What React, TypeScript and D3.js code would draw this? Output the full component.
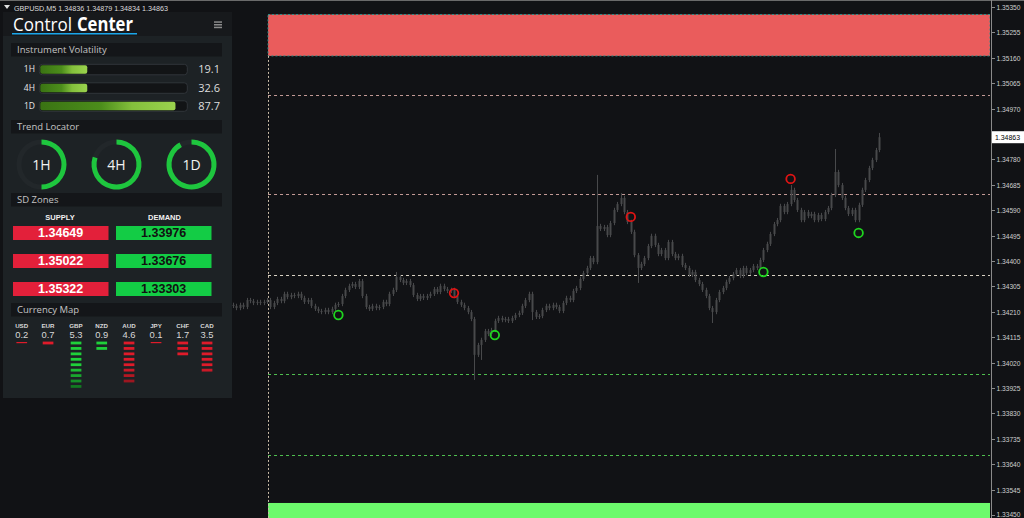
import React from 'react';
import * as d3 from 'd3';

const W = 1024;
const H = 518;

// ---------- data ----------
const symbolTitle = 'GBPUSD,M5';
const ohlcTitle = ['1.34836', '1.34879', '1.34834', '1.34863'];

const priceTicks = [
  1.3345, 1.33545, 1.3364, 1.33735, 1.3383, 1.33925, 1.3402, 1.34115, 1.3421, 1.34305, 1.344,
  1.34495, 1.3459, 1.34685, 1.3478, 1.34875, 1.3497, 1.35065, 1.3516, 1.35255, 1.3535,
];
const lastPrice = 1.34863;

const firstOpen = 1.34236;
const closes = [
  1.34232, 1.34224, 1.34236, 1.34228, 1.34254, 1.3425, 1.34243, 1.34247, 1.34243, 1.34247,
  1.34254, 1.34228, 1.34243, 1.34258, 1.3425, 1.34277, 1.34265, 1.34273, 1.34269, 1.34277,
  1.34262, 1.34247, 1.34254, 1.34232, 1.34221, 1.34213, 1.34209, 1.34217, 1.34209, 1.34221,
  1.34236, 1.34239, 1.34269, 1.34292, 1.34307, 1.34314, 1.34303, 1.34325, 1.34269, 1.34228,
  1.34221, 1.34232, 1.34224, 1.34228, 1.34247, 1.34239, 1.34277, 1.34292, 1.3434, 1.34329,
  1.34318, 1.34325, 1.3431, 1.34273, 1.34258, 1.34269, 1.34262, 1.34269, 1.34277, 1.34295,
  1.34284, 1.34307, 1.34295, 1.34288, 1.34292, 1.34269, 1.34247, 1.34236, 1.34224, 1.34209,
  1.34183, 1.34049, 1.34086, 1.34105, 1.34138, 1.34127, 1.34142, 1.34176, 1.34187, 1.34179,
  1.34183, 1.34176, 1.34187, 1.34198, 1.34206, 1.34232, 1.34254, 1.34277, 1.34209, 1.34191,
  1.34194, 1.34217, 1.34232, 1.34224, 1.34236, 1.34228, 1.34213, 1.34243, 1.34262, 1.34254,
  1.34288, 1.34299, 1.34333, 1.34355, 1.34374, 1.34411, 1.34396, 1.34531, 1.3452, 1.34527,
  1.34497, 1.34542, 1.34591, 1.34613, 1.34636, 1.34583, 1.34546, 1.34509, 1.34422, 1.34374,
  1.34389, 1.34411, 1.34456, 1.34494, 1.3446, 1.34426, 1.34441, 1.34411, 1.34471, 1.34426,
  1.34411, 1.34419, 1.34385, 1.34374, 1.34348, 1.34359, 1.34329, 1.34314, 1.34292, 1.34269,
  1.34224, 1.34209, 1.34254, 1.34284, 1.34299, 1.34322, 1.34336, 1.34351, 1.34366, 1.34344,
  1.34374, 1.34355, 1.34366, 1.34381, 1.34374, 1.34404, 1.34441, 1.34464, 1.34501, 1.34538,
  1.34553, 1.34606, 1.34583, 1.34613, 1.34666, 1.34628, 1.34591, 1.34553, 1.34583, 1.34568,
  1.34576, 1.34553, 1.34572, 1.34557, 1.34583, 1.34598, 1.34647, 1.34733, 1.34684, 1.34636,
  1.34598, 1.34576, 1.34591, 1.34553, 1.3461, 1.34666, 1.34703, 1.34748, 1.34778, 1.34815,
  1.34863,
];
const typicalWickPips = 0.8;
const spikeHighIdx = [37, 48, 107, 114, 164, 177, 190];
const spikeHighs = [1.34333, 1.34359, 1.34722, 1.34654, 1.34684, 1.34819, 1.34879];
const spikeLowIdx = [71, 73, 88, 119, 141];
const spikeLows = [1.33955, 1.3403, 1.34179, 1.34318, 1.34168];

const supplyLevels = [1.34649, 1.35022, 1.35322];
const demandLevels = [1.33976, 1.33676, 1.33303];
const supplyZone = [1.35322, 1.35167];
const demandZone = [1.33495, 1.33303];
const pivotLevel = 1.34348;
const zoneStartIndex = 10.3;

const markerIdx = [31, 77, 156, 184, 65, 117, 164];
const markerPrice = [1.34198, 1.34123, 1.34359, 1.34505, 1.3428, 1.34565, 1.34707];
const markerKind = ['buy', 'buy', 'buy', 'buy', 'sell', 'sell', 'sell'];

const volLabels = ['1H', '4H', '1D'];
const volValues = [19.1, 32.6, 87.7];
const volFill = [0.324, 0.324, 0.92];

const trendLabels = ['1H', '4H', '1D'];
const trendFill = [0.5, 0.8, 0.92];

const sdSupply = ['1.34649', '1.35022', '1.35322'];
const sdDemand = ['1.33976', '1.33676', '1.33303'];

const currencies = ['USD', 'EUR', 'GBP', 'NZD', 'AUD', 'JPY', 'CHF', 'CAD'];
const currencyValues = [0.2, 0.7, 5.3, 0.9, 4.6, 0.1, 1.7, 3.5];
const currencyBars = [0, 1, 9, 2, 8, 0, 3, 6];
const currencyDir = ['down', 'down', 'up', 'up', 'down', 'down', 'down', 'down'];

// ---------- styles ----------
const BG = '#111215';
const PANEL = '#1d2225';
const PANEL_TOP = '#17191c';
const HEAD = '#141619';
const CANDLE = '#48494b';
const FONT = "'Liberation Sans', Arial, sans-serif";
const UIFONT = "'Open Sans', 'Liberation Sans', sans-serif";

export default function App() {
  const plotRight = 990;
  const x = d3.scaleLinear().domain([0, closes.length - 1]).range([233, 879]);
  const y = d3.scaleLinear().domain([1.3345, 1.3535]).range([515, 7]);
  const pip = 0.0001;

  const candles = closes.map((c, i) => {
    const o = i === 0 ? firstOpen : closes[i - 1];
    let h = Math.max(o, c) + typicalWickPips * pip;
    let l = Math.min(o, c) - typicalWickPips * pip;
    const hi = spikeHighIdx.indexOf(i);
    if (hi >= 0) h = spikeHighs[hi];
    const lo = spikeLowIdx.indexOf(i);
    if (lo >= 0) l = spikeLows[lo];
    return { i, o, c, h, l };
  });

  const zx0 = x(zoneStartIndex);
  const arc = d3.arc<any>().innerRadius(20).outerRadius(25);

  // panel layout helpers
  const volTrackX = 39.3;
  const volTrackW = 148;
  const volRowY = [64.3, 82.8, 100.8];
  const trendCx = [41.5, 116.5, 191.5];
  const sdRowY = [226, 254, 282];
  const curX = [21.7, 48, 76, 101.7, 129, 156, 182.7, 207];

  const dashed = (p: number, color: string, key: string) => (
    <line key={key} x1={zx0} x2={plotRight} y1={Math.round(y(p)) + 0.5} y2={Math.round(y(p)) + 0.5}
      stroke={color} strokeWidth={1} strokeDasharray="3,3" />
  );

  return (
    <svg width={W} height={H} style={{ position: 'fixed', left: 0, top: 0, display: 'block' }}
      xmlns="http://www.w3.org/2000/svg">
      <defs>
        <linearGradient id="volGrad" x1="0" x2="1" y1="0" y2="0">
          <stop offset="0" stopColor="#3a7313" />
          <stop offset="0.45" stopColor="#4c8d1b" />
          <stop offset="0.68" stopColor="#84c03c" />
          <stop offset="1" stopColor="#9bd34e" />
        </linearGradient>
        <clipPath id="plotClip">
          <rect x={0} y={0} width={plotRight} height={H} />
        </clipPath>
      </defs>
      <rect x={0} y={0} width={W} height={H} fill={BG} />
      <line x1={0} x2={W} y1={0.5} y2={0.5} stroke="#6a6a6a" />

      {/* zones */}
      <g clipPath="url(#plotClip)">
        <rect x={zx0} y={y(supplyZone[0])} width={plotRight - zx0} height={y(supplyZone[1]) - y(supplyZone[0])}
          fill="#ea5c5c" stroke="#2f8f8a" strokeDasharray="2,2" strokeWidth={1} />
        <rect x={zx0} y={y(demandZone[0])} width={plotRight - zx0} height={y(demandZone[1]) - y(demandZone[0])}
          fill="#6cfa6c" />
        {dashed(supplyLevels[1], '#c39a96', 's1')}
        {dashed(supplyLevels[0], '#c39a96', 's0')}
        {dashed(pivotLevel, '#d9d2c4', 'pv')}
        {dashed(demandLevels[0], '#4fbf4f', 'd0')}
        {dashed(demandLevels[1], '#4fbf4f', 'd1')}
        <line x1={Math.round(zx0) + 0.5} x2={Math.round(zx0) + 0.5} y1={y(supplyZone[1])} y2={H}
          stroke="#c9bca8" strokeDasharray="2,2" strokeWidth={1} />
      </g>

      {/* candles */}
      <g>
        {candles.map((d) => {
          const cx = Math.round(x(d.i));
          const top = y(Math.max(d.o, d.c));
          const bot = y(Math.min(d.o, d.c));
          return (
            <g key={d.i}>
              <line x1={cx + 0.5} x2={cx + 0.5} y1={y(d.h)} y2={y(d.l)} stroke={CANDLE} strokeWidth={1} />
              <rect x={cx - 0.5} y={top} width={2} height={Math.max(1, bot - top)} fill={CANDLE} />
            </g>
          );
        })}
      </g>

      {/* markers */}
      {markerIdx.map((mi, k) => (
        <circle key={k} cx={x(mi)} cy={y(markerPrice[k])} r={4.3} fill="none"
          stroke={markerKind[k] === 'buy' ? '#1fd41f' : '#e01414'} strokeWidth={1.8} />
      ))}

      {/* right axis */}
      <line x1={991.5} x2={991.5} y1={0} y2={H} stroke="#8a8a8a" />
      {priceTicks.map((t) => (
        <g key={t}>
          <line x1={991} x2={995} y1={Math.round(y(t)) + 0.5} y2={Math.round(y(t)) + 0.5} stroke="#8a8a8a" />
          <text x={996.5} y={Math.min(y(t) + 3, H - 1)} fontSize={8} fontFamily={FONT} fill="#cfcfcf"
            textLength={24} lengthAdjust="spacingAndGlyphs">{d3.format('.5f')(t)}</text>
        </g>
      ))}
      <rect x={992} y={y(lastPrice) - 6} width={32} height={12} fill="#ffffff" />
      <text x={995} y={y(lastPrice) + 3} fontSize={8} fontFamily={FONT} fill="#000"
        textLength={25} lengthAdjust="spacingAndGlyphs">{d3.format('.5f')(lastPrice)}</text>

      {/* title */}
      <path d="M4,5 L10,5 L7,9 Z" fill="#e0e0e0" />
      <text x={14} y={10.5} fontSize={8} fontFamily={FONT} fill="#dcdcdc" textLength={154}
        lengthAdjust="spacingAndGlyphs">{`${symbolTitle}  ${ohlcTitle.join(' ')}`}</text>

      {/* panel */}
      <g>
        <rect x={3} y={12} width={229} height={386} fill={PANEL} />
        <rect x={3} y={12} width={229} height={24} fill={PANEL_TOP} />
        <text x={13} y={31} fontSize={19} fontFamily={UIFONT} fill="#ffffff" textLength={59}
          lengthAdjust="spacingAndGlyphs">Control</text>
        <text x={77} y={31} fontSize={19} fontWeight="bold" fontFamily={UIFONT} fill="#ffffff" textLength={56}
          lengthAdjust="spacingAndGlyphs">Center</text>
        <line x1={12} x2={137} y1={33.8} y2={33.8} stroke="#1aa6ea" strokeWidth={1.5} />
        {[22, 24.7, 27.4].map((hy) => (
          <rect key={hy} x={214} y={hy - 0.7} width={8} height={1.5} fill="#8b8b8b" />
        ))}

        {/* section headers */}
        {[
          ['Instrument Volatility', 43],
          ['Trend Locator', 120],
          ['SD Zones', 193],
          ['Currency Map', 303],
        ].map(([t, hy]) => (
          <g key={t as string}>
            <rect x={11} y={hy as number} width={211} height={13.5} fill={HEAD} />
            <text x={17} y={(hy as number) + 10} fontSize={9.5} fontFamily={UIFONT} fill="#c4c4c4">{t}</text>
          </g>
        ))}

        {/* volatility */}
        {volLabels.map((lb, k) => (
          <g key={lb}>
            <text x={35} y={volRowY[k] + 8} fontSize={8.5} fontFamily={UIFONT} fill="#e8e8e8" textAnchor="end">{lb}</text>
            <rect x={volTrackX} y={volRowY[k]} width={volTrackW} height={10.5} rx={3} fill="#121416" stroke="#30353a" />
            <rect x={volTrackX + 1} y={volRowY[k] + 1} width={volTrackW * volFill[k] - 1} height={8.5} rx={2}
              fill="url(#volGrad)" />
            <text x={220} y={volRowY[k] + 9} fontSize={11} fontFamily={UIFONT} fill="#dedede" textAnchor="end">
              {volValues[k].toFixed(1)}
            </text>
          </g>
        ))}

        {/* trend rings */}
        {trendLabels.map((lb, k) => (
          <g key={lb} transform={`translate(${trendCx[k]},164.5)`}>
            <circle r={22.5} fill="none" stroke="#22272a" strokeWidth={5} />
            <path d={arc({ startAngle: 0, endAngle: Math.PI * 2 * trendFill[k] }) as string} fill="#1ec63e" />
            <text y={5} fontSize={14} fontFamily={UIFONT} fill="#f2f2f2" textAnchor="middle">{lb}</text>
          </g>
        ))}

        {/* SD zones */}
        <text x={60} y={219.5} fontSize={7.5} fontWeight="bold" fontFamily={FONT} fill="#f0f0f0" textAnchor="middle">SUPPLY</text>
        <text x={164.5} y={219.5} fontSize={7.5} fontWeight="bold" fontFamily={FONT} fill="#f0f0f0" textAnchor="middle">DEMAND</text>
        {sdRowY.map((ry, k) => (
          <g key={ry}>
            <rect x={13} y={ry} width={95.5} height={14} fill="#e3203a" />
            <text x={60.7} y={ry + 11.3} fontSize={12.5} fontWeight="bold" fontFamily={FONT} fill="#ffffff" textAnchor="middle">{sdSupply[k]}</text>
            <rect x={116} y={ry} width={95.5} height={14} fill="#13cc45" />
            <text x={163.7} y={ry + 11.3} fontSize={12.5} fontWeight="bold" fontFamily={FONT} fill="#111" textAnchor="middle">{sdDemand[k]}</text>
          </g>
        ))}

        {/* currency map */}
        {currencies.map((cname, k) => {
          const up = currencyDir[k] === 'up';
          const bright = up ? '#1fd13a' : '#df1b2a';
          const dim = up ? '#127a22' : '#86141c';
          return (
            <g key={cname}>
              <text x={curX[k]} y={327.6} fontSize={6.2} fontWeight="bold" fontFamily={FONT} fill="#d8d8d8" textAnchor="middle">{cname}</text>
              <text x={curX[k]} y={337.8} fontSize={9.4} fontFamily={FONT} fill="#d8d8d8" textAnchor="middle">
                {currencyValues[k].toFixed(1)}
              </text>
              {currencyBars[k] === 0 ? (
                <rect x={curX[k] - 5.3} y={342} width={10.7} height={1.2} fill={bright} />
              ) : (
                d3.range(currencyBars[k]).map((b) => (
                  <rect key={b} x={curX[k] - 5.3} y={341.6 + b * 5.43} width={10.7} height={2.8}
                    fill={b < 5 ? bright : d3.interpolateRgb(bright, dim)((b - 4) / 4)} />
                ))
              )}
            </g>
          );
        })}
      </g>
    </svg>
  );
}
